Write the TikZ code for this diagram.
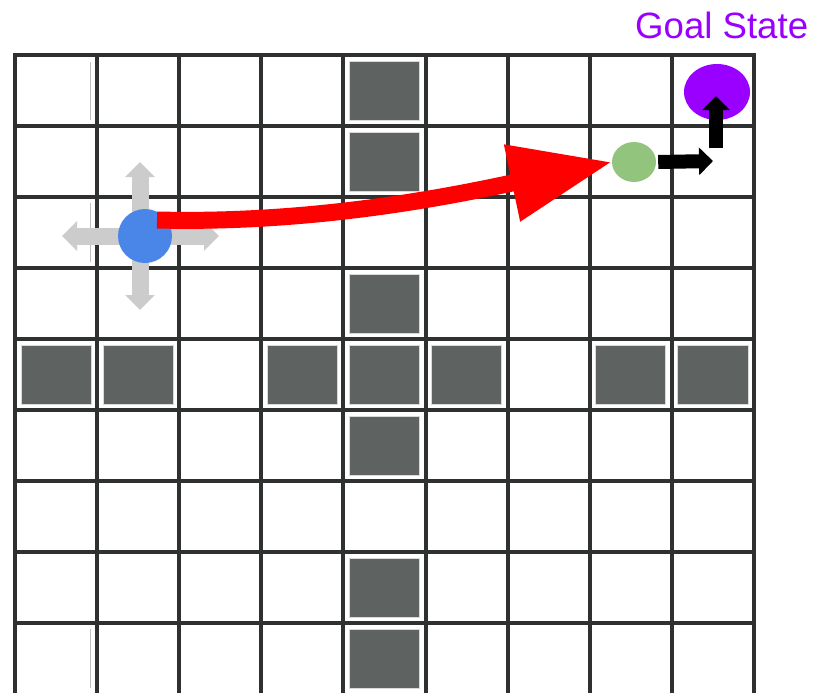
\documentclass[tikz,border=0pt]{standalone}
\usepackage{fontspec}
\setmainfont{Liberation Sans}
\usetikzlibrary{arrows.meta,shapes.geometric}
\definecolor{gridc}{HTML}{2F3130}
\definecolor{obst}{HTML}{5E6361}
\definecolor{agentblue}{HTML}{4A86E8}
\definecolor{subgreen}{HTML}{93C47D}
\definecolor{goalpurple}{HTML}{9900FF}
\definecolor{movegray}{HTML}{CCCCCC}
\tikzset{
  gridline/.style={draw=gridc, line width=4pt},
  obstbox/.style={fill=obst, draw=black!15, line width=0.8pt},
  faint/.style={draw=black!25, line width=0.8pt},
  dot/.style={ellipse, inner sep=0pt, draw=none},
  movearrow/.style={draw=movegray, line width=17pt, -{Triangle[length=15pt,width=29pt]}},
  redarrow/.style={draw=red, line width=17pt, -{Triangle[length=102pt,width=74pt]}},
  blackarrow/.style={draw=black, line width=14pt, -{Triangle[length=14pt,width=27pt]}},
  goallabel/.style={text=goalpurple, font=\fontsize{36.6}{40}\selectfont, inner sep=0pt, anchor=base west}
}
\begin{document}
\begin{tikzpicture}[x=1pt,y=-1pt]
\useasboundingbox (0,0) rectangle (813,693);
\fill[white] (0,0) rectangle (813,693);
% obstacles
\foreach \c/\r in {4/0,4/1,4/3,4/5,4/7,4/8,0/4,1/4,3/4,4/4,5/4,7/4,8/4}
  \draw[obstbox] ({15+82.1*\c+6},{55+71*\r+6}) rectangle ({15+82.1*(\c+1)-6},{55+71*(\r+1)-6});
% faint marks
\draw[faint] (90,62) -- (90,120);
\draw[faint] (90,203) -- (90,262);
\draw[faint] (90,629) -- (90,688);
% grid
\foreach \i in {0,...,9} \draw[gridline] ({15+82.1*\i},53) -- ({15+82.1*\i},693);
\foreach \j in {0,...,8} \draw[gridline] (13,{55+71*\j}) -- (756,{55+71*\j});
% label
\node[goallabel] (goaltext) at (635,38) {Goal State};
% coordinates
\coordinate (agentpos) at (145,236);
\coordinate (vbase) at (140,236);
\coordinate (mvU) at (140,162);
\coordinate (mvD) at (140,310);
\coordinate (mvL) at (62,236);
\coordinate (mvR) at (219,236);
% move arrows
\draw[movearrow] (vbase) -- (mvU);
\draw[movearrow] (vbase) -- (mvD);
\draw[movearrow] (agentpos) -- (mvL);
\draw[movearrow] (agentpos) -- (mvR);
% agent
\node[dot, fill=agentblue, minimum width=54pt, minimum height=54pt] (agent) at (agentpos) {};
% subgoal and goal
\node[dot, fill=subgreen, minimum width=44pt, minimum height=40pt] (subgoal) at (634,162) {};
\node[dot, fill=goalpurple, minimum width=66pt, minimum height=56pt] (goal) at (717,92) {};
% red arrow
\coordinate (redstart) at (157,220);
\draw[redarrow] (redstart) .. controls (320,224) and (460,194) .. (subgoal.west);
% black arrows
\coordinate (turn) at (713,161);
\coordinate (upstart) at (716,148);
\coordinate (uptip) at (716,96);
\draw[blackarrow] ([xshift=2pt]subgoal.east) -- (turn);
\draw[blackarrow] (upstart) -- (uptip);
\end{tikzpicture}
\end{document}
